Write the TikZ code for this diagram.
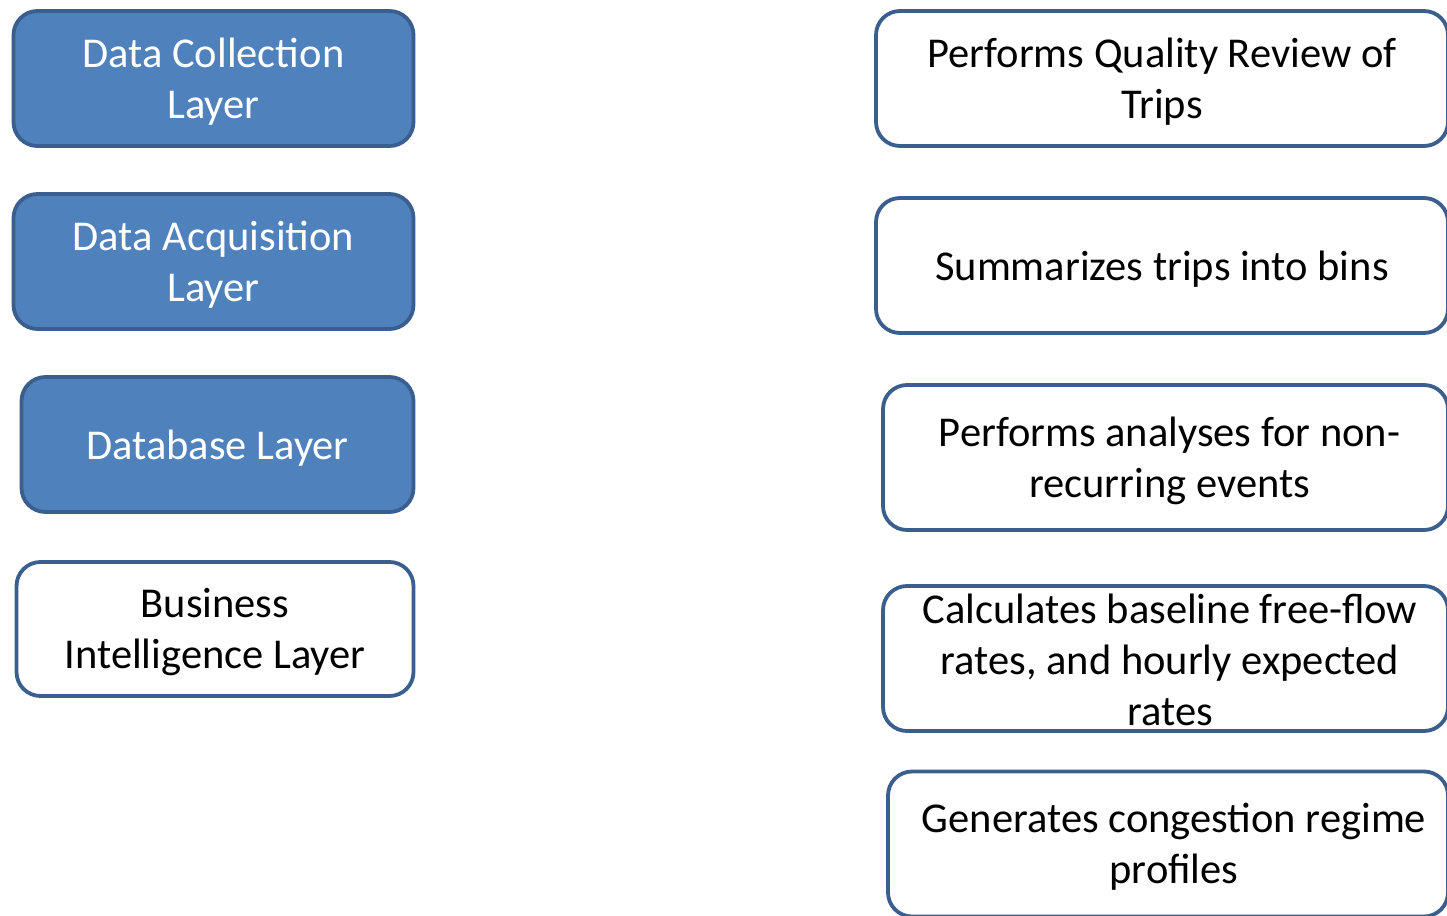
\documentclass[tikz,border=0pt]{standalone}
\usepackage{fontspec}
\setmainfont{Carlito}
\begin{document}
\begin{tikzpicture}[x=1pt,y=-1pt,
  layer/.style={rectangle, rounded corners=24pt, line width=3.8pt, draw=frameblue, inner sep=0pt},
  filledlayer/.style={layer, fill=layerblue},
  plainlayer/.style={layer, fill=white},
  caption/.style={inner sep=0pt, align=center, font=\fontsize{42.5}{51}\selectfont},
  whitecaption/.style={caption, text=white}]
\definecolor{layerblue}{HTML}{4F81BD}
\definecolor{frameblue}{HTML}{3A5F8E}
\clip (0,0) rectangle (1447,915);
\fill[white] (0,0) rectangle (1447,915);
% layers on the left
\node[filledlayer, minimum width=400pt, minimum height=135pt] (collect) at (213.5,78.5) {};
\node[whitecaption] (collecttext) at ([yshift=-3.5pt]collect.center) {Data Collection\\Layer};
\node[filledlayer, minimum width=400pt, minimum height=135pt] (acquire) at (213.5,261.5) {};
\node[whitecaption] (acquiretext) at ([yshift=-3.5pt]acquire.center) {Data Acquisition\\Layer};
\node[filledlayer, minimum width=392pt, minimum height=135pt] (dbase) at (217.5,444.5) {};
\node[whitecaption] (dbasetext) at ([yshift=-3.5pt]dbase.center) {Database Layer};
\node[plainlayer, minimum width=397pt, minimum height=134pt] (bi) at (215,629) {};
\node[caption] (bitext) at ([yshift=-3.5pt]bi.center) {Business\\Intelligence Layer};
% processing steps on the right
\node[plainlayer, minimum width=572pt, minimum height=135pt] (review) at (1162,78.5) {};
\node[caption] (reviewtext) at ([yshift=-3.5pt]review.center) {Performs Quality Review of\\Trips};
\node[plainlayer, minimum width=572pt, minimum height=135pt] (summ) at (1162,265.5) {};
\node[caption] (summtext) at ([yshift=-3.5pt]summ.center) {Summarizes trips into bins};
\node[plainlayer, minimum width=565pt, minimum height=145pt] (nonrec) at (1165.5,457.5) {};
\node[caption] (nonrectext) at ([xshift=4pt,yshift=-3.5pt]nonrec.center) {Performs analyses for non-\\recurring events};
\node[plainlayer, minimum width=565pt, minimum height=145pt] (base) at (1165.5,658.5) {};
\node[caption] (basetext) at (1170,660) {Calculates baseline free-flow\\rates, and hourly expected\\rates};
\node[plainlayer, minimum width=560pt, minimum height=145pt] (regime) at (1168,844) {};
\node[caption] (regimetext) at (1174,847) {Generates congestion regime\\profiles};
\end{tikzpicture}
\end{document}
